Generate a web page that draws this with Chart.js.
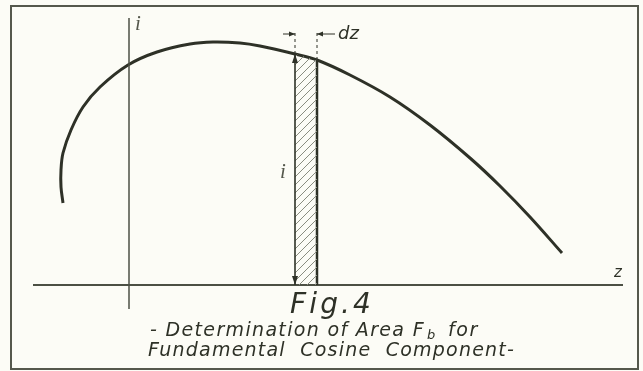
<!DOCTYPE html>
<html>
<head>
<meta charset="utf-8">
<script src="https://cdn.jsdelivr.net/npm/chart.js@4.4.0/dist/chart.umd.min.js"></script>
<style>
  body { margin: 0; background: #fcfcf6; }
  #wrap { width: 643px; height: 371px; }
</style>
</head>
<body>
<div id="wrap"><canvas id="fig4"></canvas></div>
<script>
// curve i(z) (z = 0 on the i axis, i = 0 on the z axis)
var zCurve = [-6.6, -6.8, -6.8, -6.6, -5.8, -4.6, -2.9, -0.1, 2.8, 6.1, 8.4, 11.1, 13.1, 16.6, 18.8, 22.1, 26.1, 30.1, 34.1, 37.1, 40.1, 43.3];
var iCurve = [8.2, 9.8, 11.5, 13.2, 15.5, 17.8, 19.8, 22.0, 23.3, 24.1, 24.3, 24.2, 23.9, 23.1, 22.5, 21.0, 18.8, 16.0, 12.7, 9.9, 6.8, 3.2];

// the strip of width dz
var stripZ = [16.6, 18.8];
var stripTop = [23.1, 22.5];
var dashTop = 25.3;
var dzLevel = 25.1;

// how far the two axes are drawn
var zAxis = [-9.6, 49.4];
var iAxis = [-2.4, 26.7];

var INK = '#2e3127';

function pts(xs, ys) {
  return xs.map(function(x, k) { return {x: x, y: ys[k]}; });
}

var canvas = document.getElementById('fig4');
var ctx0 = canvas.getContext('2d');

// diagonal hatch for the strip
var hatch = (function() {
  var c = document.createElement('canvas');
  c.width = 8; c.height = 8;
  var g = c.getContext('2d');
  g.strokeStyle = '#8a8d80';
  g.lineWidth = 1;
  g.beginPath();
  g.moveTo(-1, 9); g.lineTo(9, -1);
  g.moveTo(-1, 1); g.lineTo(1, -1);
  g.moveTo(7, 9); g.lineTo(9, 7);
  g.stroke();
  return ctx0.createPattern(c, 'repeat');
})();

function arrowHead(ctx, x1, y1, x2, y2, len, half) {
  var a = Math.atan2(y2 - y1, x2 - x1);
  ctx.beginPath();
  ctx.moveTo(x2, y2);
  ctx.lineTo(x2 - len * Math.cos(a) + half * Math.sin(a), y2 - len * Math.sin(a) - half * Math.cos(a));
  ctx.lineTo(x2 - len * Math.cos(a) - half * Math.sin(a), y2 - len * Math.sin(a) + half * Math.cos(a));
  ctx.closePath();
  ctx.fill();
}

function fitText(ctx, s, x, y, w) {
  ctx.letterSpacing = '0px';
  var nat = ctx.measureText(s).width;
  var sp = (w - nat) / Math.max(1, s.length);
  ctx.letterSpacing = sp + 'px';
  ctx.fillText(s, x, y);
  ctx.letterSpacing = '0px';
}

var paper = {
  id: 'paper',
  beforeDraw: function(chart) {
    var ctx = chart.ctx;
    ctx.save();
    ctx.fillStyle = '#fcfcf6';
    ctx.fillRect(0, 0, chart.width, chart.height);
    ctx.restore();
  },
  afterDraw: function(chart) {
    var ctx = chart.ctx;
    var xs = chart.scales.x, ys = chart.scales.y;
    var px = function(v) { return xs.getPixelForValue(v); };
    var py = function(v) { return ys.getPixelForValue(v); };
    ctx.save();

    // frame
    ctx.strokeStyle = '#55584c';
    ctx.lineWidth = 2;
    ctx.strokeRect(11, 6, 627, 363);

    ctx.strokeStyle = INK;
    ctx.fillStyle = INK;

    // i arrow on the left side of the strip
    ctx.lineWidth = 1.6;
    ctx.beginPath();
    ctx.moveTo(px(stripZ[0]), py(0));
    ctx.lineTo(px(stripZ[0]), py(stripTop[0]));
    ctx.stroke();
    arrowHead(ctx, px(stripZ[0]), py(10), px(stripZ[0]), py(stripTop[0]), 9, 3);
    arrowHead(ctx, px(stripZ[0]), py(10), px(stripZ[0]), py(0), 9, 3);

    // dz arrows
    ctx.lineWidth = 1;
    ctx.beginPath();
    ctx.moveTo(px(15.4), py(dzLevel));
    ctx.lineTo(px(stripZ[0]), py(dzLevel));
    ctx.moveTo(px(20.6), py(dzLevel));
    ctx.lineTo(px(stripZ[1]), py(dzLevel));
    ctx.stroke();
    arrowHead(ctx, px(15.4), py(dzLevel), px(stripZ[0]), py(dzLevel), 6, 2.5);
    arrowHead(ctx, px(20.6), py(dzLevel), px(stripZ[1]), py(dzLevel), 6, 2.5);

    ctx.textBaseline = 'middle';
    ctx.textAlign = 'left';
    ctx.font = 'italic 18px "DejaVu Sans"';
    ctx.fillText('dz', px(20.6) + 3, py(dzLevel));

    ctx.font = 'italic 15px "DejaVu Sans"';
    ctx.textAlign = 'center';
    ctx.fillText('z', px(48.9), py(1.2));

    ctx.fillStyle = '#55584c';
    ctx.font = 'italic 21px "Liberation Serif"';
    ctx.fillText('i', px(0.9), py(26.1));
    ctx.fillText('i', px(15.4), py(11.3));
    ctx.fillStyle = INK;

    // caption
    ctx.textBaseline = 'alphabetic';
    ctx.textAlign = 'left';
    ctx.font = 'italic 28px "DejaVu Sans"';
    fitText(ctx, 'Fig.4', 290, 313, 84);
    ctx.font = 'italic 19px "DejaVu Sans"';
    fitText(ctx, '- Determination of Area F', 150, 336, 275);
    ctx.font = 'italic 13px "DejaVu Sans"';
    ctx.fillText('b', 427, 339);
    ctx.font = 'italic 19px "DejaVu Sans"';
    fitText(ctx, 'for', 448, 336, 31);
    fitText(ctx, 'Fundamental  Cosine  Component-', 148, 356, 367);
    ctx.restore();
  }
};

var line = function(data, opts) {
  return Object.assign({
    data: data, borderColor: INK, borderWidth: 2, pointRadius: 0,
    tension: 0, fill: false, clip: false
  }, opts || {});
};

new Chart(canvas, {
  type: 'line',
  data: {
    datasets: [
      line(pts(stripZ, stripTop), {fill: 'origin', backgroundColor: hatch, borderWidth: 0}),
      line([{x: stripZ[1], y: 0}, {x: stripZ[1], y: stripTop[1]}], {borderWidth: 2.5}),
      line([{x: stripZ[0], y: stripTop[0]}, {x: stripZ[0], y: dashTop}], {borderWidth: 1, borderDash: [3, 3]}),
      line([{x: stripZ[1], y: stripTop[1]}, {x: stripZ[1], y: dashTop}], {borderWidth: 1, borderDash: [3, 3]}),
      line([{x: zAxis[0], y: 0}, {x: zAxis[1], y: 0}], {borderColor: '#4c5044', borderWidth: 2.2}),
      line([{x: 0, y: iAxis[0]}, {x: 0, y: iAxis[1]}], {borderColor: '#4c5044', borderWidth: 1.5}),
      line(pts(zCurve, iCurve), {borderWidth: 3, tension: 0.35})
    ]
  },
  options: {
    responsive: true,
    maintainAspectRatio: false,
    animation: false,
    layout: { padding: 0 },
    plugins: { legend: { display: false }, tooltip: { enabled: false } },
    scales: {
      x: { type: 'linear', min: -12.9, max: 51.4, display: false },
      y: { type: 'linear', min: -8.6, max: 28.5, display: false }
    }
  },
  plugins: [paper]
});
</script>
</body>
</html>
